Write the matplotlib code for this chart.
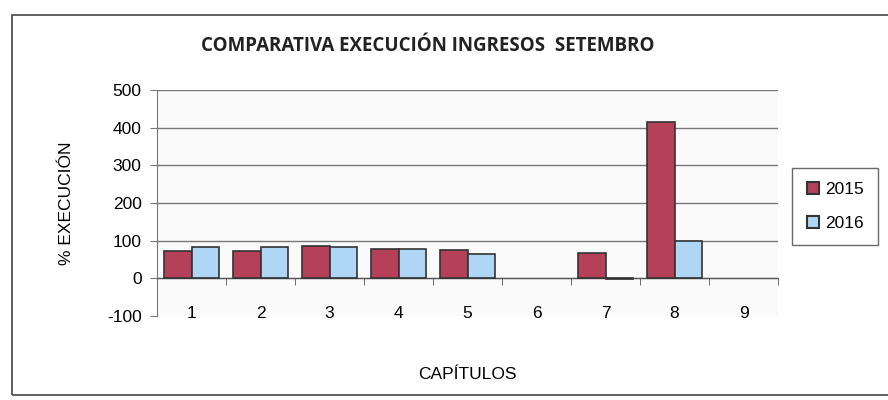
import numpy as np
import matplotlib.pyplot as plt
from matplotlib.patches import Rectangle
from matplotlib.lines import Line2D

# datos
capitulos = ["1", "2", "3", "4", "5", "6", "7", "8", "9"]
exec_2015 = [72, 72, 87, 79, 74, 0, 67, 415, 0]
exec_2016 = [82, 82, 84, 79, 65, 0, -2, 100, 0]
y_ticks = [-100, 0, 100, 200, 300, 400, 500]

col_2015 = "#B5405A"
col_2016 = "#AFD6F5"
edge = "#333333"

plt.rcParams["font.family"] = ["Liberation Sans", "DejaVu Sans"]

fig = plt.figure(figsize=(8.88, 4.0), dpi=100)
fig.patch.set_facecolor("white")

# marco exterior (o bordo dereito queda fóra da imaxe)
fig.patches.append(Rectangle((12 / 888, 5 / 400), 890 / 888, 380 / 400, transform=fig.transFigure,
                             fill=False, edgecolor="#555555", linewidth=1.3))

ax = fig.add_axes([157 / 888, 84 / 400, 621 / 888, 226 / 400])
ax.set_facecolor("#fafafa")

x = np.arange(len(capitulos))
w = 0.4
# barras a cero non se debuxan con bordo
lw_2015 = [1.2 if v != 0 else 0 for v in exec_2015]
lw_2016 = [1.2 if v != 0 else 0 for v in exec_2016]
ax.bar(x - w / 2, exec_2015, w, color=col_2015, edgecolor=edge, linewidth=lw_2015, zorder=3)
ax.bar(x + w / 2, exec_2016, w, color=col_2016, edgecolor=edge, linewidth=lw_2016, zorder=3)

ax.set_ylim(-100, 500)
ax.set_xlim(-0.5, len(capitulos) - 0.5)
ax.set_yticks(y_ticks)
ax.set_yticklabels([str(v) for v in y_ticks], fontsize=12.5)
for v in y_ticks[2:]:
    ax.axhline(v, color="#777777", linewidth=1, zorder=1)
ax.axhline(0, color="#555555", linewidth=1, zorder=2)

# eixo x: liña en 0, etiquetas abaixo
ax.spines["bottom"].set_position(("data", 0))
ax.spines["bottom"].set_color("#555555")
ax.spines["top"].set_visible(False)
ax.spines["right"].set_visible(False)
ax.spines["left"].set_color("#777777")
ax.set_xticks(x)
ax.set_xticklabels(capitulos, fontsize=12.5)
ax.set_xticks(np.arange(len(capitulos)) + 0.5, minor=True)
ax.tick_params(axis="x", which="major", length=0, pad=20)
ax.tick_params(axis="x", which="minor", length=5, direction="out", color="#555555")
ax.tick_params(axis="y", length=5, color="#777777", pad=6)

ax.set_ylabel("% EXECUCIÓN", fontsize=12.5, labelpad=24)
ax.set_xlabel("CAPÍTULOS", fontsize=12.5, labelpad=33)

fig.text(0.482, 0.885, "COMPARATIVA EXECUCIÓN INGRESOS  SETEMBRO", ha="center", va="center",
         fontsize=13.5, fontweight="bold", family=["Open Sans", "DejaVu Sans"], color="#222222")

handles = [Line2D([], [], marker="s", linestyle="", markersize=8, markerfacecolor=col_2015,
                  markeredgecolor=edge, markeredgewidth=1.5),
           Line2D([], [], marker="s", linestyle="", markersize=8, markerfacecolor=col_2016,
                  markeredgecolor=edge, markeredgewidth=1.5)]
leg = fig.legend(handles, ["2015", "2016"], loc="upper left", bbox_to_anchor=(792 / 888, 1 - 168 / 400),
                 frameon=True, fancybox=False, edgecolor="#444444", fontsize=12.5, handlelength=0.8,
                 handletextpad=0.3, labelspacing=1.1, borderpad=0.8, borderaxespad=0)
leg.get_frame().set_linewidth(1)

plt.savefig("out.png", dpi=100)
